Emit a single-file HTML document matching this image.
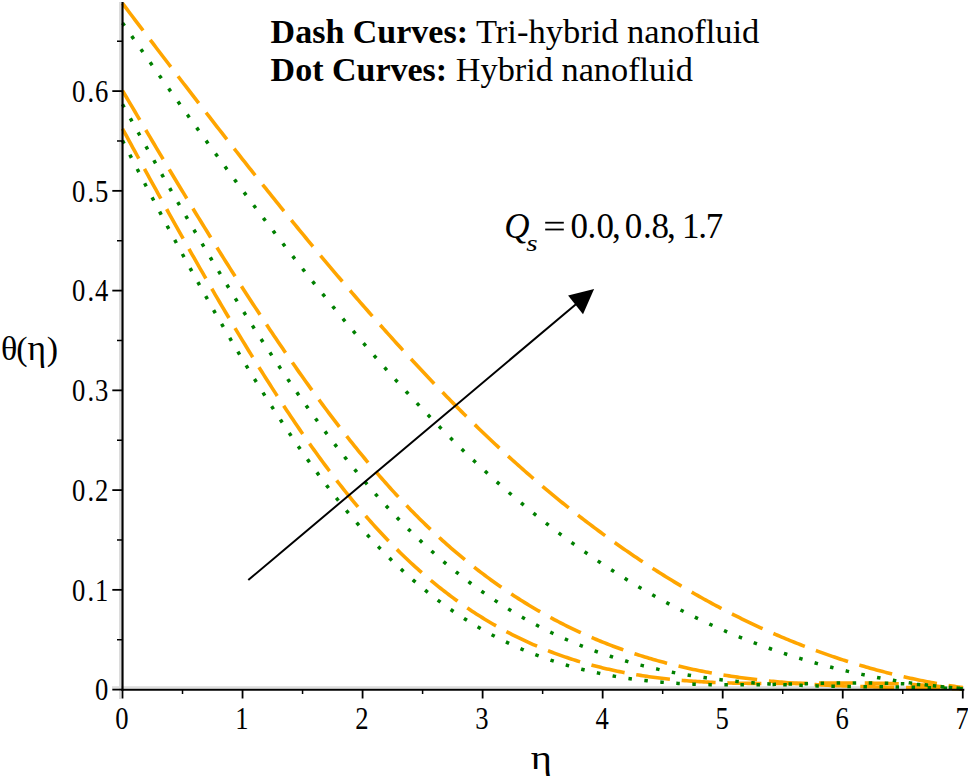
<!DOCTYPE html>
<html><head><meta charset="utf-8"><style>
html,body{margin:0;padding:0;background:#fff;overflow:hidden;width:968px;height:778px;}
svg{display:block;}
text{font-family:"Liberation Serif",serif;fill:#000;}
</style></head><body>
<svg width="968" height="778" viewBox="0 0 968 778">
<rect width="968" height="778" fill="#fff"/>
<rect x="119" y="2" width="2" height="697" fill="#dcdcdc"/>
<rect x="112" y="686.2" width="852" height="2.2" fill="#dedede"/>
<polyline points="122.50,3.41 124.61,6.19 126.71,8.96 128.82,11.74 130.92,14.51 133.03,17.28 135.14,20.06 137.24,22.83 139.35,25.60 141.45,28.37 143.56,31.13 145.67,33.90 147.77,36.67 149.88,39.43 151.98,42.19 154.09,44.96 156.20,47.72 158.30,50.48 160.41,53.24 162.51,55.99 164.62,58.75 166.73,61.50 168.83,64.25 170.94,67.01 173.04,69.76 175.15,72.50 177.26,75.25 179.36,77.99 181.47,80.74 183.57,83.48 185.68,86.22 187.79,88.95 189.89,91.69 192.00,94.42 194.10,97.15 196.21,99.88 198.32,102.61 200.42,105.33 202.53,108.05 204.63,110.77 206.74,113.49 208.85,116.20 210.95,118.92 213.06,121.63 215.16,124.34 217.27,127.04 219.38,129.74 221.48,132.44 223.59,135.14 225.69,137.83 227.80,140.53 229.91,143.22 232.01,145.90 234.12,148.58 236.22,151.26 238.33,153.94 240.44,156.62 242.54,159.29 244.65,161.95 246.75,164.62 248.86,167.28 250.97,169.94 253.07,172.59 255.18,175.25 257.28,177.89 259.39,180.54 261.50,183.18 263.60,185.82 265.71,188.45 267.82,191.08 269.92,193.71 272.03,196.33 274.13,198.95 276.24,201.57 278.35,204.18 280.45,206.79 282.56,209.39 284.66,211.99 286.77,214.59 288.88,217.18 290.98,219.77 293.09,222.35 295.19,224.93 297.30,227.50 299.41,230.07 301.51,232.64 303.62,235.20 305.72,237.76 307.83,240.31 309.94,242.86 312.04,245.41 314.15,247.95 316.25,250.48 318.36,253.01 320.47,255.54 322.57,258.06 324.68,260.57 326.78,263.08 328.89,265.59 331.00,268.09 333.10,270.59 335.21,273.08 337.31,275.56 339.42,278.04 341.53,280.52 343.63,282.99 345.74,285.45 347.84,287.91 349.95,290.37 352.06,292.82 354.16,295.26 356.27,297.70 358.37,300.13 360.48,302.56 362.59,304.98 364.69,307.40 366.80,309.81 368.90,312.21 371.01,314.61 373.12,317.00 375.22,319.39 377.33,321.77 379.43,324.14 381.54,326.51 383.65,328.87 385.75,331.23 387.86,333.58 389.96,335.92 392.07,338.26 394.18,340.59 396.28,342.92 398.39,345.24 400.49,347.55 402.60,349.85 404.71,352.15 406.81,354.45 408.92,356.73 411.02,359.01 413.13,361.28 415.24,363.55 417.34,365.81 419.45,368.06 421.55,370.31 423.66,372.54 425.77,374.78 427.87,377.00 429.98,379.22 432.08,381.43 434.19,383.63 436.30,385.83 438.40,388.02 440.51,390.20 442.61,392.37 444.72,394.54 446.83,396.70 448.93,398.85 451.04,400.99 453.14,403.13 455.25,405.26 457.36,407.38 459.46,409.50 461.57,411.60 463.67,413.70 465.78,415.79 467.89,417.87 469.99,419.95 472.10,422.01 474.20,424.07 476.31,426.12 478.42,428.17 480.52,430.20 482.63,432.23 484.73,434.25 486.84,436.26 488.95,438.26 491.05,440.25 493.16,442.24 495.26,444.21 497.37,446.18 499.48,448.14 501.58,450.09 503.69,452.03 505.79,453.97 507.90,455.89 510.01,457.81 512.11,459.72 514.22,461.62 516.32,463.51 518.43,465.39 520.54,467.26 522.64,469.13 524.75,470.99 526.85,472.84 528.96,474.68 531.07,476.51 533.17,478.33 535.28,480.15 537.38,481.96 539.49,483.75 541.60,485.54 543.70,487.33 545.81,489.10 547.92,490.86 550.02,492.62 552.13,494.37 554.23,496.11 556.34,497.84 558.45,499.56 560.55,501.28 562.66,502.99 564.76,504.68 566.87,506.38 568.98,508.06 571.08,509.73 573.19,511.40 575.29,513.05 577.40,514.70 579.51,516.34 581.61,517.98 583.72,519.60 585.82,521.22 587.93,522.83 590.04,524.43 592.14,526.02 594.25,527.60 596.35,529.18 598.46,530.74 600.57,532.30 602.67,533.86 604.78,535.40 606.88,536.93 608.99,538.46 611.10,539.98 613.20,541.49 615.31,542.99 617.41,544.49 619.52,545.97 621.63,547.45 623.73,548.92 625.84,550.39 627.94,551.84 630.05,553.29 632.16,554.73 634.26,556.16 636.37,557.58 638.47,558.99 640.58,560.40 642.69,561.80 644.79,563.19 646.90,564.57 649.00,565.95 651.11,567.32 653.22,568.68 655.32,570.03 657.43,571.37 659.53,572.71 661.64,574.03 663.75,575.35 665.85,576.67 667.96,577.97 670.06,579.27 672.17,580.56 674.28,581.84 676.38,583.11 678.49,584.38 680.59,585.63 682.70,586.88 684.81,588.12 686.91,589.36 689.02,590.59 691.12,591.80 693.23,593.02 695.34,594.22 697.44,595.42 699.55,596.60 701.65,597.78 703.76,598.96 705.87,600.12 707.97,601.28 710.08,602.43 712.18,603.57 714.29,604.71 716.40,605.83 718.50,606.95 720.61,608.06 722.71,609.17 724.82,610.26 726.93,611.35 729.03,612.43 731.14,613.51 733.24,614.57 735.35,615.63 737.46,616.68 739.56,617.73 741.67,618.77 743.77,619.79 745.88,620.82 747.99,621.83 750.09,622.84 752.20,623.83 754.30,624.83 756.41,625.81 758.52,626.79 760.62,627.76 762.73,628.72 764.83,629.67 766.94,630.62 769.05,631.56 771.15,632.49 773.26,633.42 775.36,634.33 777.47,635.24 779.58,636.15 781.68,637.04 783.79,637.93 785.89,638.81 788.00,639.68 790.11,640.55 792.21,641.41 794.32,642.26 796.42,643.10 798.53,643.94 800.64,644.77 802.74,645.59 804.85,646.41 806.95,647.22 809.06,648.02 811.17,648.81 813.27,649.60 815.38,650.38 817.48,651.15 819.59,651.92 821.70,652.67 823.80,653.43 825.91,654.17 828.02,654.91 830.12,655.64 832.23,656.36 834.33,657.07 836.44,657.78 838.55,658.48 840.65,659.18 842.76,659.86 844.86,660.54 846.97,661.22 849.08,661.88 851.18,662.54 853.29,663.19 855.39,663.84 857.50,664.47 859.61,665.10 861.71,665.73 863.82,666.35 865.92,666.96 868.03,667.56 870.14,668.15 872.24,668.74 874.35,669.33 876.45,669.90 878.56,670.47 880.67,671.03 882.77,671.58 884.88,672.13 886.98,672.67 889.09,673.21 891.20,673.73 893.30,674.25 895.41,674.77 897.51,675.27 899.62,675.77 901.73,676.27 903.83,676.75 905.94,677.23 908.04,677.70 910.15,678.17 912.26,678.63 914.36,679.08 916.47,679.53 918.57,679.97 920.68,680.40 922.79,680.82 924.89,681.24 927.00,681.65 929.10,682.06 931.21,682.46 933.32,682.85 935.42,683.23 937.53,683.61 939.63,683.99 941.74,684.35 943.85,684.71 945.95,685.06 948.06,685.41 950.16,685.75 952.27,686.08 954.38,686.40 956.48,686.72 958.59,687.04 960.69,687.34 962.80,687.64" fill="none" stroke="#FFA500" stroke-width="3.6" stroke-dasharray="34 11.8" stroke-linecap="butt"/>
<polyline points="122.50,90.56 124.61,94.14 126.71,97.72 128.82,101.30 130.92,104.88 133.03,108.45 135.14,112.02 137.24,115.59 139.35,119.16 141.45,122.72 143.56,126.28 145.67,129.84 147.77,133.39 149.88,136.94 151.98,140.49 154.09,144.03 156.20,147.57 158.30,151.11 160.41,154.64 162.51,158.17 164.62,161.69 166.73,165.21 168.83,168.72 170.94,172.23 173.04,175.74 175.15,179.24 177.26,182.73 179.36,186.22 181.47,189.71 183.57,193.18 185.68,196.66 187.79,200.13 189.89,203.59 192.00,207.05 194.10,210.50 196.21,213.94 198.32,217.38 200.42,220.81 202.53,224.24 204.63,227.65 206.74,231.07 208.85,234.47 210.95,237.87 213.06,241.26 215.16,244.64 217.27,248.02 219.38,251.39 221.48,254.75 223.59,258.10 225.69,261.45 227.80,264.78 229.91,268.11 232.01,271.43 234.12,274.75 236.22,278.05 238.33,281.35 240.44,284.63 242.54,287.91 244.65,291.18 246.75,294.44 248.86,297.69 250.97,300.93 253.07,304.16 255.18,307.38 257.28,310.59 259.39,313.80 261.50,316.99 263.60,320.17 265.71,323.34 267.82,326.50 269.92,329.65 272.03,332.79 274.13,335.92 276.24,339.04 278.35,342.15 280.45,345.24 282.56,348.33 284.66,351.40 286.77,354.46 288.88,357.51 290.98,360.55 293.09,363.58 295.19,366.59 297.30,369.60 299.41,372.59 301.51,375.56 303.62,378.53 305.72,381.48 307.83,384.42 309.94,387.35 312.04,390.26 314.15,393.16 316.25,396.05 318.36,398.92 320.47,401.78 322.57,404.63 324.68,407.46 326.78,410.28 328.89,413.09 331.00,415.88 333.10,418.65 335.21,421.42 337.31,424.16 339.42,426.90 341.53,429.61 343.63,432.32 345.74,435.01 347.84,437.68 349.95,440.34 352.06,442.98 354.16,445.61 356.27,448.22 358.37,450.81 360.48,453.39 362.59,455.95 364.69,458.50 366.80,461.03 368.90,463.55 371.01,466.04 373.12,468.53 375.22,470.99 377.33,473.44 379.43,475.87 381.54,478.28 383.65,480.68 385.75,483.06 387.86,485.42 389.96,487.76 392.07,490.09 394.18,492.39 396.28,494.68 398.39,496.95 400.49,499.21 402.60,501.44 404.71,503.66 406.81,505.86 408.92,508.04 411.02,510.20 413.13,512.35 415.24,514.48 417.34,516.59 419.45,518.68 421.55,520.75 423.66,522.81 425.77,524.85 427.87,526.88 429.98,528.88 432.08,530.87 434.19,532.84 436.30,534.80 438.40,536.74 440.51,538.66 442.61,540.56 444.72,542.45 446.83,544.32 448.93,546.18 451.04,548.02 453.14,549.84 455.25,551.64 457.36,553.43 459.46,555.21 461.57,556.97 463.67,558.71 465.78,560.43 467.89,562.14 469.99,563.84 472.10,565.52 474.20,567.18 476.31,568.83 478.42,570.46 480.52,572.08 482.63,573.68 484.73,575.26 486.84,576.83 488.95,578.39 491.05,579.93 493.16,581.46 495.26,582.97 497.37,584.46 499.48,585.95 501.58,587.41 503.69,588.87 505.79,590.30 507.90,591.73 510.01,593.14 512.11,594.53 514.22,595.91 516.32,597.28 518.43,598.63 520.54,599.97 522.64,601.30 524.75,602.61 526.85,603.90 528.96,605.19 531.07,606.46 533.17,607.72 535.28,608.96 537.38,610.19 539.49,611.40 541.60,612.61 543.70,613.80 545.81,614.98 547.92,616.14 550.02,617.29 552.13,618.43 554.23,619.56 556.34,620.67 558.45,621.77 560.55,622.86 562.66,623.93 564.76,625.00 566.87,626.05 568.98,627.08 571.08,628.11 573.19,629.13 575.29,630.13 577.40,631.12 579.51,632.10 581.61,633.06 583.72,634.02 585.82,634.96 587.93,635.89 590.04,636.81 592.14,637.72 594.25,638.62 596.35,639.51 598.46,640.38 600.57,641.24 602.67,642.10 604.78,642.94 606.88,643.77 608.99,644.59 611.10,645.40 613.20,646.20 615.31,646.99 617.41,647.77 619.52,648.53 621.63,649.29 623.73,650.04 625.84,650.77 627.94,651.50 630.05,652.21 632.16,652.92 634.26,653.62 636.37,654.30 638.47,654.98 640.58,655.65 642.69,656.30 644.79,656.95 646.90,657.59 649.00,658.22 651.11,658.84 653.22,659.45 655.32,660.05 657.43,660.64 659.53,661.23 661.64,661.80 663.75,662.36 665.85,662.92 667.96,663.47 670.06,664.01 672.17,664.54 674.28,665.06 676.38,665.57 678.49,666.08 680.59,666.58 682.70,667.06 684.81,667.55 686.91,668.02 689.02,668.48 691.12,668.94 693.23,669.39 695.34,669.83 697.44,670.26 699.55,670.69 701.65,671.11 703.76,671.52 705.87,671.92 707.97,672.32 710.08,672.70 712.18,673.09 714.29,673.46 716.40,673.83 718.50,674.19 720.61,674.54 722.71,674.89 724.82,675.23 726.93,675.56 729.03,675.89 731.14,676.21 733.24,676.53 735.35,676.83 737.46,677.13 739.56,677.43 741.67,677.72 743.77,678.00 745.88,678.28 747.99,678.55 750.09,678.82 752.20,679.08 754.30,679.33 756.41,679.58 758.52,679.82 760.62,680.06 762.73,680.29 764.83,680.52 766.94,680.74 769.05,680.96 771.15,681.17 773.26,681.38 775.36,681.58 777.47,681.77 779.58,681.97 781.68,682.15 783.79,682.34 785.89,682.51 788.00,682.69 790.11,682.86 792.21,683.02 794.32,683.18 796.42,683.34 798.53,683.49 800.64,683.64 802.74,683.78 804.85,683.92 806.95,684.06 809.06,684.19 811.17,684.32 813.27,684.45 815.38,684.57 817.48,684.69 819.59,684.81 821.70,684.92 823.80,685.03 825.91,685.13 828.02,685.24 830.12,685.34 832.23,685.43 834.33,685.53 836.44,685.62 838.55,685.71 840.65,685.79 842.76,685.88 844.86,685.96 846.97,686.04 849.08,686.11 851.18,686.19 853.29,686.26 855.39,686.33 857.50,686.40 859.61,686.46 861.71,686.53 863.82,686.59 865.92,686.65 868.03,686.71 870.14,686.77 872.24,686.82 874.35,686.88 876.45,686.93 878.56,686.98 880.67,687.03 882.77,687.08 884.88,687.13 886.98,687.18 889.09,687.23 891.20,687.27 893.30,687.32 895.41,687.36 897.51,687.41 899.62,687.45 901.73,687.49 903.83,687.54 905.94,687.58 908.04,687.62 910.15,687.66 912.26,687.70 914.36,687.75 916.47,687.79 918.57,687.83 920.68,687.87 922.79,687.92 924.89,687.96 927.00,688.00 929.10,688.05 931.21,688.09 933.32,688.14 935.42,688.18 937.53,688.23 939.63,688.28 941.74,688.33 943.85,688.38 945.95,688.43 948.06,688.48 950.16,688.53 952.27,688.59 954.38,688.64 956.48,688.70 958.59,688.76 960.69,688.82 962.80,688.88" fill="none" stroke="#FFA500" stroke-width="3.6" stroke-dasharray="34 11.8" stroke-linecap="butt"/>
<polyline points="122.50,128.75 124.61,132.61 126.71,136.47 128.82,140.33 130.92,144.19 133.03,148.04 135.14,151.89 137.24,155.74 139.35,159.59 141.45,163.43 143.56,167.27 145.67,171.11 147.77,174.95 149.88,178.77 151.98,182.60 154.09,186.42 156.20,190.24 158.30,194.05 160.41,197.86 162.51,201.66 164.62,205.46 166.73,209.25 168.83,213.04 170.94,216.82 173.04,220.59 175.15,224.36 177.26,228.12 179.36,231.88 181.47,235.63 183.57,239.37 185.68,243.10 187.79,246.83 189.89,250.55 192.00,254.27 194.10,257.97 196.21,261.67 198.32,265.36 200.42,269.04 202.53,272.71 204.63,276.37 206.74,280.03 208.85,283.67 210.95,287.31 213.06,290.94 215.16,294.55 217.27,298.16 219.38,301.76 221.48,305.34 223.59,308.92 225.69,312.48 227.80,316.04 229.91,319.58 232.01,323.12 234.12,326.64 236.22,330.15 238.33,333.64 240.44,337.13 242.54,340.60 244.65,344.06 246.75,347.51 248.86,350.95 250.97,354.37 253.07,357.78 255.18,361.18 257.28,364.56 259.39,367.93 261.50,371.29 263.60,374.63 265.71,377.96 267.82,381.27 269.92,384.57 272.03,387.85 274.13,391.12 276.24,394.37 278.35,397.61 280.45,400.84 282.56,404.04 284.66,407.23 286.77,410.41 288.88,413.57 290.98,416.71 293.09,419.83 295.19,422.94 297.30,426.03 299.41,429.11 301.51,432.17 303.62,435.21 305.72,438.23 307.83,441.23 309.94,444.22 312.04,447.18 314.15,450.13 316.25,453.06 318.36,455.97 320.47,458.86 322.57,461.73 324.68,464.59 326.78,467.42 328.89,470.23 331.00,473.03 333.10,475.80 335.21,478.55 337.31,481.28 339.42,483.99 341.53,486.68 343.63,489.35 345.74,492.00 347.84,494.62 349.95,497.23 352.06,499.81 354.16,502.37 356.27,504.91 358.37,507.42 360.48,509.91 362.59,512.38 364.69,514.83 366.80,517.25 368.90,519.65 371.01,522.03 373.12,524.38 375.22,526.71 377.33,529.02 379.43,531.31 381.54,533.57 383.65,535.81 385.75,538.03 387.86,540.22 389.96,542.40 392.07,544.55 394.18,546.68 396.28,548.79 398.39,550.88 400.49,552.94 402.60,554.99 404.71,557.01 406.81,559.01 408.92,560.99 411.02,562.95 413.13,564.89 415.24,566.81 417.34,568.70 419.45,570.58 421.55,572.44 423.66,574.27 425.77,576.09 427.87,577.89 429.98,579.66 432.08,581.42 434.19,583.15 436.30,584.87 438.40,586.57 440.51,588.25 442.61,589.90 444.72,591.54 446.83,593.16 448.93,594.77 451.04,596.35 453.14,597.91 455.25,599.46 457.36,600.98 459.46,602.49 461.57,603.98 463.67,605.45 465.78,606.91 467.89,608.34 469.99,609.76 472.10,611.16 474.20,612.54 476.31,613.91 478.42,615.25 480.52,616.58 482.63,617.90 484.73,619.19 486.84,620.47 488.95,621.73 491.05,622.98 493.16,624.21 495.26,625.42 497.37,626.61 499.48,627.79 501.58,628.96 503.69,630.10 505.79,631.23 507.90,632.35 510.01,633.45 512.11,634.53 514.22,635.60 516.32,636.65 518.43,637.69 520.54,638.71 522.64,639.72 524.75,640.71 526.85,641.69 528.96,642.65 531.07,643.60 533.17,644.53 535.28,645.45 537.38,646.35 539.49,647.24 541.60,648.12 543.70,648.98 545.81,649.83 547.92,650.66 550.02,651.48 552.13,652.29 554.23,653.08 556.34,653.86 558.45,654.63 560.55,655.38 562.66,656.13 564.76,656.85 566.87,657.57 568.98,658.27 571.08,658.96 573.19,659.64 575.29,660.30 577.40,660.96 579.51,661.60 581.61,662.23 583.72,662.84 585.82,663.45 587.93,664.04 590.04,664.62 592.14,665.19 594.25,665.75 596.35,666.30 598.46,666.84 600.57,667.36 602.67,667.88 604.78,668.38 606.88,668.88 608.99,669.36 611.10,669.83 613.20,670.29 615.31,670.74 617.41,671.18 619.52,671.62 621.63,672.04 623.73,672.45 625.84,672.85 627.94,673.24 630.05,673.63 632.16,674.00 634.26,674.36 636.37,674.72 638.47,675.07 640.58,675.40 642.69,675.73 644.79,676.05 646.90,676.36 649.00,676.66 651.11,676.96 653.22,677.24 655.32,677.52 657.43,677.79 659.53,678.05 661.64,678.31 663.75,678.55 665.85,678.79 667.96,679.02 670.06,679.25 672.17,679.47 674.28,679.67 676.38,679.88 678.49,680.07 680.59,680.26 682.70,680.44 684.81,680.62 686.91,680.79 689.02,680.95 691.12,681.11 693.23,681.26 695.34,681.40 697.44,681.54 699.55,681.67 701.65,681.80 703.76,681.92 705.87,682.03 707.97,682.14 710.08,682.25 712.18,682.35 714.29,682.44 716.40,682.53 718.50,682.61 720.61,682.69 722.71,682.77 724.82,682.84 726.93,682.91 729.03,682.97 731.14,683.03 733.24,683.08 735.35,683.13 737.46,683.18 739.56,683.22 741.67,683.26 743.77,683.29 745.88,683.32 747.99,683.35 750.09,683.38 752.20,683.40 754.30,683.42 756.41,683.44 758.52,683.45 760.62,683.46 762.73,683.47 764.83,683.47 766.94,683.48 769.05,683.48 771.15,683.48 773.26,683.48 775.36,683.47 777.47,683.47 779.58,683.46 781.68,683.45 783.79,683.44 785.89,683.43 788.00,683.41 790.11,683.40 792.21,683.38 794.32,683.37 796.42,683.35 798.53,683.33 800.64,683.32 802.74,683.30 804.85,683.28 806.95,683.26 809.06,683.24 811.17,683.22 813.27,683.20 815.38,683.18 817.48,683.17 819.59,683.15 821.70,683.13 823.80,683.11 825.91,683.10 828.02,683.08 830.12,683.07 832.23,683.06 834.33,683.04 836.44,683.03 838.55,683.03 840.65,683.02 842.76,683.01 844.86,683.01 846.97,683.01 849.08,683.01 851.18,683.01 853.29,683.01 855.39,683.02 857.50,683.03 859.61,683.04 861.71,683.06 863.82,683.07 865.92,683.09 868.03,683.12 870.14,683.14 872.24,683.17 874.35,683.20 876.45,683.24 878.56,683.28 880.67,683.32 882.77,683.37 884.88,683.42 886.98,683.48 889.09,683.54 891.20,683.60 893.30,683.67 895.41,683.74 897.51,683.82 899.62,683.90 901.73,683.98 903.83,684.07 905.94,684.17 908.04,684.27 910.15,684.38 912.26,684.49 914.36,684.61 916.47,684.73 918.57,684.86 920.68,684.99 922.79,685.13 924.89,685.28 927.00,685.43 929.10,685.59 931.21,685.75 933.32,685.92 935.42,686.10 937.53,686.28 939.63,686.47 941.74,686.67 943.85,686.88 945.95,687.09 948.06,687.31 950.16,687.53 952.27,687.77 954.38,688.01 956.48,688.26 958.59,688.51 960.69,688.78 962.80,689.05" fill="none" stroke="#FFA500" stroke-width="3.6" stroke-dasharray="34 11.8" stroke-linecap="butt"/>
<polyline points="122.50,22.91 124.61,25.93 126.71,28.95 128.82,31.96 130.92,34.98 133.03,37.99 135.14,41.00 137.24,44.00 139.35,47.01 141.45,50.01 143.56,53.01 145.67,56.00 147.77,59.00 149.88,61.99 151.98,64.98 154.09,67.97 156.20,70.95 158.30,73.93 160.41,76.91 162.51,79.88 164.62,82.86 166.73,85.83 168.83,88.79 170.94,91.76 173.04,94.72 175.15,97.67 177.26,100.63 179.36,103.58 181.47,106.53 183.57,109.47 185.68,112.41 187.79,115.35 189.89,118.28 192.00,121.21 194.10,124.14 196.21,127.06 198.32,129.98 200.42,132.90 202.53,135.81 204.63,138.72 206.74,141.62 208.85,144.52 210.95,147.42 213.06,150.31 215.16,153.20 217.27,156.08 219.38,158.96 221.48,161.83 223.59,164.70 225.69,167.57 227.80,170.43 229.91,173.29 232.01,176.14 234.12,178.99 236.22,181.84 238.33,184.68 240.44,187.51 242.54,190.34 244.65,193.16 246.75,195.98 248.86,198.80 250.97,201.61 253.07,204.42 255.18,207.22 257.28,210.01 259.39,212.80 261.50,215.58 263.60,218.36 265.71,221.14 267.82,223.91 269.92,226.67 272.03,229.43 274.13,232.18 276.24,234.93 278.35,237.67 280.45,240.40 282.56,243.13 284.66,245.86 286.77,248.57 288.88,251.29 290.98,253.99 293.09,256.69 295.19,259.39 297.30,262.08 299.41,264.76 301.51,267.43 303.62,270.10 305.72,272.77 307.83,275.42 309.94,278.07 312.04,280.72 314.15,283.36 316.25,285.99 318.36,288.61 320.47,291.23 322.57,293.84 324.68,296.45 326.78,299.05 328.89,301.64 331.00,304.22 333.10,306.80 335.21,309.37 337.31,311.93 339.42,314.49 341.53,317.04 343.63,319.58 345.74,322.11 347.84,324.64 349.95,327.16 352.06,329.67 354.16,332.18 356.27,334.68 358.37,337.17 360.48,339.65 362.59,342.12 364.69,344.59 366.80,347.05 368.90,349.50 371.01,351.95 373.12,354.38 375.22,356.81 377.33,359.23 379.43,361.64 381.54,364.05 383.65,366.44 385.75,368.83 387.86,371.21 389.96,373.58 392.07,375.94 394.18,378.30 396.28,380.64 398.39,382.98 400.49,385.31 402.60,387.63 404.71,389.94 406.81,392.25 408.92,394.54 411.02,396.83 413.13,399.10 415.24,401.37 417.34,403.63 419.45,405.88 421.55,408.12 423.66,410.35 425.77,412.57 427.87,414.79 429.98,416.99 432.08,419.19 434.19,421.37 436.30,423.55 438.40,425.71 440.51,427.87 442.61,430.02 444.72,432.16 446.83,434.29 448.93,436.40 451.04,438.51 453.14,440.61 455.25,442.70 457.36,444.78 459.46,446.85 461.57,448.91 463.67,450.96 465.78,453.00 467.89,455.03 469.99,457.05 472.10,459.06 474.20,461.05 476.31,463.04 478.42,465.02 480.52,466.99 482.63,468.95 484.73,470.89 486.84,472.83 488.95,474.76 491.05,476.67 493.16,478.58 495.26,480.47 497.37,482.36 499.48,484.23 501.58,486.10 503.69,487.96 505.79,489.80 507.90,491.64 510.01,493.46 512.11,495.28 514.22,497.08 516.32,498.88 518.43,500.66 520.54,502.44 522.64,504.21 524.75,505.96 526.85,507.71 528.96,509.44 531.07,511.17 533.17,512.89 535.28,514.59 537.38,516.29 539.49,517.98 541.60,519.66 543.70,521.32 545.81,522.98 547.92,524.63 550.02,526.27 552.13,527.90 554.23,529.52 556.34,531.13 558.45,532.73 560.55,534.32 562.66,535.90 564.76,537.48 566.87,539.04 568.98,540.59 571.08,542.14 573.19,543.67 575.29,545.20 577.40,546.71 579.51,548.22 581.61,549.72 583.72,551.20 585.82,552.68 587.93,554.15 590.04,555.61 592.14,557.06 594.25,558.51 596.35,559.94 598.46,561.36 600.57,562.78 602.67,564.18 604.78,565.58 606.88,566.97 608.99,568.35 611.10,569.72 613.20,571.08 615.31,572.43 617.41,573.77 619.52,575.10 621.63,576.43 623.73,577.74 625.84,579.05 627.94,580.35 630.05,581.64 632.16,582.92 634.26,584.19 636.37,585.45 638.47,586.71 640.58,587.95 642.69,589.19 644.79,590.42 646.90,591.64 649.00,592.85 651.11,594.05 653.22,595.24 655.32,596.43 657.43,597.60 659.53,598.77 661.64,599.93 663.75,601.08 665.85,602.23 667.96,603.36 670.06,604.48 672.17,605.60 674.28,606.71 676.38,607.81 678.49,608.90 680.59,609.99 682.70,611.06 684.81,612.13 686.91,613.19 689.02,614.24 691.12,615.28 693.23,616.32 695.34,617.34 697.44,618.36 699.55,619.37 701.65,620.37 703.76,621.37 705.87,622.35 707.97,623.33 710.08,624.30 712.18,625.26 714.29,626.21 716.40,627.16 718.50,628.10 720.61,629.03 722.71,629.95 724.82,630.86 726.93,631.77 729.03,632.67 731.14,633.56 733.24,634.44 735.35,635.31 737.46,636.18 739.56,637.04 741.67,637.89 743.77,638.74 745.88,639.57 747.99,640.40 750.09,641.22 752.20,642.04 754.30,642.84 756.41,643.64 758.52,644.43 760.62,645.21 762.73,645.99 764.83,646.76 766.94,647.52 769.05,648.27 771.15,649.02 773.26,649.76 775.36,650.49 777.47,651.21 779.58,651.93 781.68,652.64 783.79,653.34 785.89,654.03 788.00,654.72 790.11,655.40 792.21,656.07 794.32,656.74 796.42,657.40 798.53,658.05 800.64,658.69 802.74,659.33 804.85,659.96 806.95,660.58 809.06,661.20 811.17,661.81 813.27,662.41 815.38,663.00 817.48,663.59 819.59,664.17 821.70,664.75 823.80,665.31 825.91,665.87 828.02,666.43 830.12,666.97 832.23,667.51 834.33,668.05 836.44,668.57 838.55,669.09 840.65,669.61 842.76,670.11 844.86,670.61 846.97,671.10 849.08,671.59 851.18,672.07 853.29,672.54 855.39,673.01 857.50,673.47 859.61,673.92 861.71,674.37 863.82,674.81 865.92,675.24 868.03,675.67 870.14,676.09 872.24,676.50 874.35,676.91 876.45,677.31 878.56,677.71 880.67,678.10 882.77,678.48 884.88,678.86 886.98,679.23 889.09,679.59 891.20,679.95 893.30,680.30 895.41,680.64 897.51,680.98 899.62,681.32 901.73,681.64 903.83,681.96 905.94,682.28 908.04,682.59 910.15,682.89 912.26,683.18 914.36,683.48 916.47,683.76 918.57,684.04 920.68,684.31 922.79,684.58 924.89,684.84 927.00,685.09 929.10,685.34 931.21,685.58 933.32,685.82 935.42,686.05 937.53,686.28 939.63,686.50 941.74,686.71 943.85,686.92 945.95,687.13 948.06,687.32 950.16,687.51 952.27,687.70 954.38,687.88 956.48,688.06 958.59,688.22 960.69,688.39 962.80,688.55" fill="none" stroke="#008000" stroke-width="3.5" stroke-dasharray="3.5 12.54" stroke-linecap="butt"/>
<polyline points="122.50,104.27 124.61,108.07 126.71,111.86 128.82,115.65 130.92,119.43 133.03,123.21 135.14,126.99 137.24,130.75 139.35,134.52 141.45,138.28 143.56,142.03 145.67,145.78 147.77,149.52 149.88,153.25 151.98,156.98 154.09,160.71 156.20,164.42 158.30,168.13 160.41,171.84 162.51,175.54 164.62,179.23 166.73,182.91 168.83,186.59 170.94,190.26 173.04,193.92 175.15,197.58 177.26,201.23 179.36,204.87 181.47,208.50 183.57,212.13 185.68,215.75 187.79,219.36 189.89,222.96 192.00,226.55 194.10,230.14 196.21,233.71 198.32,237.28 200.42,240.84 202.53,244.39 204.63,247.93 206.74,251.46 208.85,254.98 210.95,258.50 213.06,262.00 215.16,265.50 217.27,268.98 219.38,272.45 221.48,275.92 223.59,279.37 225.69,282.82 227.80,286.25 229.91,289.68 232.01,293.09 234.12,296.49 236.22,299.88 238.33,303.26 240.44,306.63 242.54,309.99 244.65,313.34 246.75,316.67 248.86,320.00 250.97,323.31 253.07,326.61 255.18,329.90 257.28,333.18 259.39,336.44 261.50,339.69 263.60,342.93 265.71,346.16 267.82,349.37 269.92,352.58 272.03,355.77 274.13,358.94 276.24,362.10 278.35,365.25 280.45,368.39 282.56,371.51 284.66,374.62 286.77,377.72 288.88,380.80 290.98,383.87 293.09,386.92 295.19,389.96 297.30,392.99 299.41,396.00 301.51,398.99 303.62,401.97 305.72,404.94 307.83,407.89 309.94,410.83 312.04,413.75 314.15,416.65 316.25,419.55 318.36,422.42 320.47,425.28 322.57,428.12 324.68,430.95 326.78,433.76 328.89,436.56 331.00,439.34 333.10,442.10 335.21,444.85 337.31,447.58 339.42,450.29 341.53,452.98 343.63,455.66 345.74,458.33 347.84,460.97 349.95,463.60 352.06,466.21 354.16,468.80 356.27,471.37 358.37,473.93 360.48,476.47 362.59,478.99 364.69,481.49 366.80,483.97 368.90,486.44 371.01,488.89 373.12,491.32 375.22,493.72 377.33,496.11 379.43,498.49 381.54,500.84 383.65,503.17 385.75,505.48 387.86,507.78 389.96,510.05 392.07,512.31 394.18,514.54 396.28,516.76 398.39,518.96 400.49,521.13 402.60,523.29 404.71,525.43 406.81,527.55 408.92,529.65 411.02,531.73 413.13,533.80 415.24,535.84 417.34,537.87 419.45,539.88 421.55,541.87 423.66,543.84 425.77,545.79 427.87,547.73 429.98,549.65 432.08,551.55 434.19,553.43 436.30,555.29 438.40,557.14 440.51,558.97 442.61,560.78 444.72,562.57 446.83,564.35 448.93,566.11 451.04,567.85 453.14,569.58 455.25,571.28 457.36,572.97 459.46,574.65 461.57,576.31 463.67,577.95 465.78,579.57 467.89,581.18 469.99,582.77 472.10,584.35 474.20,585.91 476.31,587.45 478.42,588.98 480.52,590.49 482.63,591.98 484.73,593.46 486.84,594.92 488.95,596.37 491.05,597.80 493.16,599.22 495.26,600.62 497.37,602.01 499.48,603.38 501.58,604.74 503.69,606.08 505.79,607.40 507.90,608.71 510.01,610.01 512.11,611.29 514.22,612.56 516.32,613.81 518.43,615.05 520.54,616.27 522.64,617.48 524.75,618.68 526.85,619.86 528.96,621.03 531.07,622.18 533.17,623.32 535.28,624.44 537.38,625.56 539.49,626.66 541.60,627.74 543.70,628.81 545.81,629.87 547.92,630.91 550.02,631.95 552.13,632.97 554.23,633.97 556.34,634.96 558.45,635.94 560.55,636.91 562.66,637.87 564.76,638.81 566.87,639.74 568.98,640.66 571.08,641.56 573.19,642.45 575.29,643.33 577.40,644.20 579.51,645.06 581.61,645.90 583.72,646.74 585.82,647.56 587.93,648.37 590.04,649.17 592.14,649.95 594.25,650.73 596.35,651.49 598.46,652.25 600.57,652.99 602.67,653.72 604.78,654.44 606.88,655.15 608.99,655.85 611.10,656.53 613.20,657.21 615.31,657.88 617.41,658.53 619.52,659.18 621.63,659.81 623.73,660.44 625.84,661.05 627.94,661.66 630.05,662.25 632.16,662.84 634.26,663.42 636.37,663.98 638.47,664.54 640.58,665.08 642.69,665.62 644.79,666.15 646.90,666.67 649.00,667.18 651.11,667.68 653.22,668.17 655.32,668.65 657.43,669.13 659.53,669.59 661.64,670.05 663.75,670.50 665.85,670.94 667.96,671.37 670.06,671.79 672.17,672.21 674.28,672.61 676.38,673.01 678.49,673.40 680.59,673.79 682.70,674.16 684.81,674.53 686.91,674.89 689.02,675.24 691.12,675.59 693.23,675.92 695.34,676.25 697.44,676.58 699.55,676.89 701.65,677.20 703.76,677.50 705.87,677.80 707.97,678.09 710.08,678.37 712.18,678.64 714.29,678.91 716.40,679.17 718.50,679.43 720.61,679.68 722.71,679.92 724.82,680.16 726.93,680.39 729.03,680.62 731.14,680.84 733.24,681.05 735.35,681.26 737.46,681.46 739.56,681.66 741.67,681.85 743.77,682.04 745.88,682.22 747.99,682.39 750.09,682.57 752.20,682.73 754.30,682.89 756.41,683.05 758.52,683.20 760.62,683.35 762.73,683.49 764.83,683.63 766.94,683.76 769.05,683.89 771.15,684.02 773.26,684.14 775.36,684.25 777.47,684.37 779.58,684.48 781.68,684.58 783.79,684.68 785.89,684.78 788.00,684.88 790.11,684.97 792.21,685.05 794.32,685.14 796.42,685.22 798.53,685.30 800.64,685.37 802.74,685.45 804.85,685.52 806.95,685.58 809.06,685.65 811.17,685.71 813.27,685.77 815.38,685.82 817.48,685.88 819.59,685.93 821.70,685.98 823.80,686.03 825.91,686.07 828.02,686.12 830.12,686.16 832.23,686.20 834.33,686.24 836.44,686.27 838.55,686.31 840.65,686.34 842.76,686.38 844.86,686.41 846.97,686.44 849.08,686.47 851.18,686.50 853.29,686.52 855.39,686.55 857.50,686.58 859.61,686.60 861.71,686.63 863.82,686.65 865.92,686.68 868.03,686.70 870.14,686.72 872.24,686.75 874.35,686.77 876.45,686.79 878.56,686.82 880.67,686.84 882.77,686.87 884.88,686.89 886.98,686.92 889.09,686.94 891.20,686.97 893.30,686.99 895.41,687.02 897.51,687.05 899.62,687.08 901.73,687.11 903.83,687.14 905.94,687.18 908.04,687.21 910.15,687.25 912.26,687.28 914.36,687.32 916.47,687.36 918.57,687.41 920.68,687.45 922.79,687.50 924.89,687.55 927.00,687.60 929.10,687.65 931.21,687.70 933.32,687.76 935.42,687.82 937.53,687.88 939.63,687.95 941.74,688.02 943.85,688.09 945.95,688.16 948.06,688.24 950.16,688.31 952.27,688.40 954.38,688.48 956.48,688.57 958.59,688.66 960.69,688.76 962.80,688.86" fill="none" stroke="#008000" stroke-width="3.5" stroke-dasharray="3.5 12.54" stroke-linecap="butt"/>
<polyline points="122.50,140.50 124.61,144.59 126.71,148.69 128.82,152.77 130.92,156.85 133.03,160.93 135.14,164.99 137.24,169.05 139.35,173.10 141.45,177.15 143.56,181.18 145.67,185.21 147.77,189.23 149.88,193.25 151.98,197.25 154.09,201.25 156.20,205.24 158.30,209.21 160.41,213.18 162.51,217.15 164.62,221.10 166.73,225.04 168.83,228.97 170.94,232.90 173.04,236.81 175.15,240.72 177.26,244.61 179.36,248.49 181.47,252.37 183.57,256.23 185.68,260.08 187.79,263.92 189.89,267.75 192.00,271.57 194.10,275.38 196.21,279.18 198.32,282.96 200.42,286.73 202.53,290.49 204.63,294.24 206.74,297.98 208.85,301.70 210.95,305.42 213.06,309.11 215.16,312.80 217.27,316.47 219.38,320.13 221.48,323.78 223.59,327.41 225.69,331.03 227.80,334.64 229.91,338.23 232.01,341.81 234.12,345.37 236.22,348.92 238.33,352.45 240.44,355.97 242.54,359.48 244.65,362.96 246.75,366.44 248.86,369.90 250.97,373.34 253.07,376.77 255.18,380.18 257.28,383.58 259.39,386.96 261.50,390.32 263.60,393.67 265.71,397.00 267.82,400.31 269.92,403.61 272.03,406.89 274.13,410.15 276.24,413.39 278.35,416.62 280.45,419.83 282.56,423.02 284.66,426.20 286.77,429.35 288.88,432.49 290.98,435.61 293.09,438.71 295.19,441.79 297.30,444.85 299.41,447.90 301.51,450.92 303.62,453.92 305.72,456.91 307.83,459.88 309.94,462.82 312.04,465.75 314.15,468.65 316.25,471.54 318.36,474.40 320.47,477.25 322.57,480.07 324.68,482.87 326.78,485.65 328.89,488.41 331.00,491.15 333.10,493.87 335.21,496.56 337.31,499.24 339.42,501.89 341.53,504.52 343.63,507.12 345.74,509.71 347.84,512.27 349.95,514.81 352.06,517.32 354.16,519.81 356.27,522.28 358.37,524.73 360.48,527.15 362.59,529.55 364.69,531.92 366.80,534.27 368.90,536.60 371.01,538.90 373.12,541.18 375.22,543.43 377.33,545.66 379.43,547.87 381.54,550.05 383.65,552.21 385.75,554.35 387.86,556.46 389.96,558.55 392.07,560.62 394.18,562.67 396.28,564.69 398.39,566.69 400.49,568.67 402.60,570.62 404.71,572.55 406.81,574.46 408.92,576.35 411.02,578.22 413.13,580.07 415.24,581.89 417.34,583.69 419.45,585.48 421.55,587.24 423.66,588.98 425.77,590.70 427.87,592.39 429.98,594.07 432.08,595.73 434.19,597.37 436.30,598.98 438.40,600.58 440.51,602.16 442.61,603.71 444.72,605.25 446.83,606.77 448.93,608.27 451.04,609.75 453.14,611.21 455.25,612.65 457.36,614.07 459.46,615.48 461.57,616.86 463.67,618.23 465.78,619.58 467.89,620.91 469.99,622.22 472.10,623.51 474.20,624.79 476.31,626.05 478.42,627.29 480.52,628.51 482.63,629.72 484.73,630.91 486.84,632.08 488.95,633.23 491.05,634.37 493.16,635.49 495.26,636.60 497.37,637.69 499.48,638.76 501.58,639.82 503.69,640.86 505.79,641.88 507.90,642.89 510.01,643.88 512.11,644.86 514.22,645.82 516.32,646.77 518.43,647.70 520.54,648.61 522.64,649.52 524.75,650.40 526.85,651.28 528.96,652.13 531.07,652.98 533.17,653.81 535.28,654.62 537.38,655.42 539.49,656.21 541.60,656.98 543.70,657.74 545.81,658.49 547.92,659.22 550.02,659.94 552.13,660.65 554.23,661.34 556.34,662.03 558.45,662.69 560.55,663.35 562.66,663.99 564.76,664.62 566.87,665.24 568.98,665.85 571.08,666.44 573.19,667.03 575.29,667.60 577.40,668.16 579.51,668.71 581.61,669.24 583.72,669.77 585.82,670.28 587.93,670.78 590.04,671.27 592.14,671.75 594.25,672.22 596.35,672.68 598.46,673.13 600.57,673.57 602.67,674.00 604.78,674.41 606.88,674.82 608.99,675.22 611.10,675.60 613.20,675.98 615.31,676.35 617.41,676.71 619.52,677.06 621.63,677.39 623.73,677.72 625.84,678.05 627.94,678.36 630.05,678.66 632.16,678.95 634.26,679.24 636.37,679.52 638.47,679.78 640.58,680.04 642.69,680.30 644.79,680.54 646.90,680.77 649.00,681.00 651.11,681.22 653.22,681.43 655.32,681.64 657.43,681.83 659.53,682.02 661.64,682.21 663.75,682.38 665.85,682.55 667.96,682.71 670.06,682.87 672.17,683.01 674.28,683.15 676.38,683.29 678.49,683.42 680.59,683.54 682.70,683.66 684.81,683.77 686.91,683.87 689.02,683.97 691.12,684.06 693.23,684.15 695.34,684.23 697.44,684.30 699.55,684.37 701.65,684.44 703.76,684.50 705.87,684.56 707.97,684.61 710.08,684.65 712.18,684.70 714.29,684.73 716.40,684.77 718.50,684.79 720.61,684.82 722.71,684.84 724.82,684.86 726.93,684.87 729.03,684.88 731.14,684.88 733.24,684.89 735.35,684.88 737.46,684.88 739.56,684.87 741.67,684.86 743.77,684.85 745.88,684.83 747.99,684.81 750.09,684.79 752.20,684.77 754.30,684.74 756.41,684.71 758.52,684.68 760.62,684.65 762.73,684.61 764.83,684.58 766.94,684.54 769.05,684.50 771.15,684.46 773.26,684.41 775.36,684.37 777.47,684.32 779.58,684.28 781.68,684.23 783.79,684.18 785.89,684.14 788.00,684.09 790.11,684.04 792.21,683.99 794.32,683.94 796.42,683.89 798.53,683.84 800.64,683.79 802.74,683.74 804.85,683.69 806.95,683.64 809.06,683.59 811.17,683.54 813.27,683.50 815.38,683.45 817.48,683.40 819.59,683.36 821.70,683.32 823.80,683.27 825.91,683.23 828.02,683.20 830.12,683.16 832.23,683.12 834.33,683.09 836.44,683.06 838.55,683.03 840.65,683.00 842.76,682.98 844.86,682.96 846.97,682.94 849.08,682.92 851.18,682.90 853.29,682.89 855.39,682.89 857.50,682.88 859.61,682.88 861.71,682.88 863.82,682.88 865.92,682.89 868.03,682.90 870.14,682.92 872.24,682.94 874.35,682.96 876.45,682.99 878.56,683.02 880.67,683.06 882.77,683.10 884.88,683.14 886.98,683.19 889.09,683.25 891.20,683.31 893.30,683.37 895.41,683.44 897.51,683.52 899.62,683.60 901.73,683.68 903.83,683.77 905.94,683.87 908.04,683.97 910.15,684.08 912.26,684.20 914.36,684.32 916.47,684.44 918.57,684.58 920.68,684.72 922.79,684.86 924.89,685.02 927.00,685.18 929.10,685.34 931.21,685.52 933.32,685.70 935.42,685.89 937.53,686.08 939.63,686.28 941.74,686.49 943.85,686.71 945.95,686.94 948.06,687.17 950.16,687.41 952.27,687.66 954.38,687.92 956.48,688.19 958.59,688.46 960.69,688.74 962.80,689.04" fill="none" stroke="#008000" stroke-width="3.5" stroke-dasharray="3.5 12.54" stroke-linecap="butt"/>
<line x1="122.5" y1="2" x2="122.5" y2="690.8" stroke="#000" stroke-width="2.2"/>
<line x1="121.5" y1="689.8" x2="964.3" y2="689.8" stroke="#000" stroke-width="2"/>
<line x1="112.3" y1="689.60" x2="122.5" y2="689.60" stroke="#000" stroke-width="1.8"/>
<line x1="117" y1="639.73" x2="122.5" y2="639.73" stroke="#000" stroke-width="1.5"/>
<line x1="112.3" y1="589.85" x2="122.5" y2="589.85" stroke="#000" stroke-width="1.8"/>
<line x1="117" y1="539.98" x2="122.5" y2="539.98" stroke="#000" stroke-width="1.5"/>
<line x1="112.3" y1="490.10" x2="122.5" y2="490.10" stroke="#000" stroke-width="1.8"/>
<line x1="117" y1="440.23" x2="122.5" y2="440.23" stroke="#000" stroke-width="1.5"/>
<line x1="112.3" y1="390.35" x2="122.5" y2="390.35" stroke="#000" stroke-width="1.8"/>
<line x1="117" y1="340.48" x2="122.5" y2="340.48" stroke="#000" stroke-width="1.5"/>
<line x1="112.3" y1="290.60" x2="122.5" y2="290.60" stroke="#000" stroke-width="1.8"/>
<line x1="117" y1="240.73" x2="122.5" y2="240.73" stroke="#000" stroke-width="1.5"/>
<line x1="112.3" y1="190.85" x2="122.5" y2="190.85" stroke="#000" stroke-width="1.8"/>
<line x1="117" y1="140.98" x2="122.5" y2="140.98" stroke="#000" stroke-width="1.5"/>
<line x1="112.3" y1="91.10" x2="122.5" y2="91.10" stroke="#000" stroke-width="1.8"/>
<line x1="117" y1="41.23" x2="122.5" y2="41.23" stroke="#000" stroke-width="1.5"/>
<line x1="122.50" y1="689.8" x2="122.50" y2="698.5" stroke="#000" stroke-width="1.8"/>
<line x1="182.52" y1="689.8" x2="182.52" y2="694" stroke="#000" stroke-width="1.5"/>
<line x1="242.54" y1="689.8" x2="242.54" y2="698.5" stroke="#000" stroke-width="1.8"/>
<line x1="302.56" y1="689.8" x2="302.56" y2="694" stroke="#000" stroke-width="1.5"/>
<line x1="362.58" y1="689.8" x2="362.58" y2="698.5" stroke="#000" stroke-width="1.8"/>
<line x1="422.60" y1="689.8" x2="422.60" y2="694" stroke="#000" stroke-width="1.5"/>
<line x1="482.62" y1="689.8" x2="482.62" y2="698.5" stroke="#000" stroke-width="1.8"/>
<line x1="542.64" y1="689.8" x2="542.64" y2="694" stroke="#000" stroke-width="1.5"/>
<line x1="602.66" y1="689.8" x2="602.66" y2="698.5" stroke="#000" stroke-width="1.8"/>
<line x1="662.68" y1="689.8" x2="662.68" y2="694" stroke="#000" stroke-width="1.5"/>
<line x1="722.70" y1="689.8" x2="722.70" y2="698.5" stroke="#000" stroke-width="1.8"/>
<line x1="782.72" y1="689.8" x2="782.72" y2="694" stroke="#000" stroke-width="1.5"/>
<line x1="842.74" y1="689.8" x2="842.74" y2="698.5" stroke="#000" stroke-width="1.8"/>
<line x1="902.76" y1="689.8" x2="902.76" y2="694" stroke="#000" stroke-width="1.5"/>
<line x1="962.78" y1="689.8" x2="962.78" y2="698.5" stroke="#000" stroke-width="1.8"/>
<text transform="scale(0.82,1)" x="115.98" y="700.40" style="font-size:32.5px" >0</text>
<text transform="scale(0.82,1)" x="87.80 106.59 115.85" y="600.65" style="font-size:32.5px" >0.1</text>
<text transform="scale(0.82,1)" x="87.80 106.59 115.85" y="500.90" style="font-size:32.5px" >0.2</text>
<text transform="scale(0.82,1)" x="87.80 106.59 115.85" y="401.15" style="font-size:32.5px" >0.3</text>
<text transform="scale(0.82,1)" x="87.80 106.59 115.85" y="301.40" style="font-size:32.5px" >0.4</text>
<text transform="scale(0.82,1)" x="87.80 106.59 115.85" y="201.65" style="font-size:32.5px" >0.5</text>
<text transform="scale(0.82,1)" x="87.80 106.59 115.85" y="101.90" style="font-size:32.5px" >0.6</text>
<text transform="scale(0.82,1)" x="140.53" y="728.90" style="font-size:32.5px" >0</text>
<text transform="scale(0.82,1)" x="286.92" y="728.90" style="font-size:32.5px" >1</text>
<text transform="scale(0.82,1)" x="433.31" y="728.90" style="font-size:32.5px" >2</text>
<text transform="scale(0.82,1)" x="579.70" y="728.90" style="font-size:32.5px" >3</text>
<text transform="scale(0.82,1)" x="726.09" y="728.90" style="font-size:32.5px" >4</text>
<text transform="scale(0.82,1)" x="872.48" y="728.90" style="font-size:32.5px" >5</text>
<text transform="scale(0.82,1)" x="1018.88" y="728.90" style="font-size:32.5px" >6</text>
<text transform="scale(0.82,1)" x="1165.27" y="728.90" style="font-size:32.5px" >7</text>
<text x="270.6" y="42.6" style="font-size:34px"><tspan font-weight="bold">Dash Curves:</tspan><tspan style="font-size:34.5px"> Tri-hybrid nanofluid</tspan></text>
<text x="270.6" y="81.3" style="font-size:34px"><tspan font-weight="bold">Dot Curves:</tspan><tspan style="font-size:34.3px"> Hybrid nanofluid</tspan></text>
<text x="504.3" y="237.5" style="font-size:35px;font-style:italic">Q</text>
<text transform="translate(526.3,250.7) scale(1.22,1)" style="font-size:24px;font-style:italic">s</text>
<rect x="545.2" y="221.8" width="18.6" height="1.8" fill="#000"/>
<rect x="545.2" y="228.6" width="18.6" height="1.8" fill="#000"/>
<text x="570.57 587.59 596.57 612.07 624.77 642.99 651.47 666.97 681.92 698.19 705.69" y="237.5" style="font-size:35px">0.0,0.8,1.7</text>
<line x1="248.3" y1="580" x2="578" y2="302.5" stroke="#000" stroke-width="2"/>
<polygon points="594.1,289 568.1,295.6 583,314.2" fill="#000"/>
<text x="0.9 16.3" y="360" style="font-size:34px">θ(</text>
<text x="27.5" y="360" style="font-size:35.5px">η</text>
<text x="46.8" y="360" style="font-size:34px">)</text>
<text transform="translate(530.85,768.9) scale(1.19,1)" style="font-size:34px">η</text>
</svg>
</body></html>
